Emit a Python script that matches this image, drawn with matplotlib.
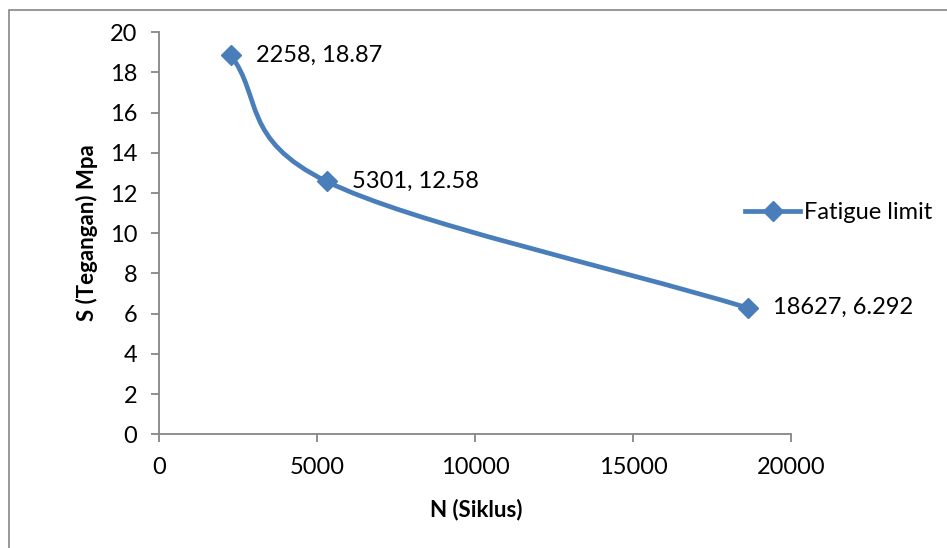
import numpy as np
import matplotlib
matplotlib.use("Agg")
import matplotlib.pyplot as plt
from matplotlib.path import Path
from matplotlib.patches import PathPatch, Rectangle
from matplotlib.lines import Line2D

# fatigue test results
n_cycles = [2258, 5301, 18627]
stress = [18.87, 12.58, 6.292]
point_labels = ["2258, 18.87", "5301, 12.58", "18627, 6.292"]
series_name = "Fatigue limit"

blue = "#4A7EBB"
axis_grey = "#868686"

plt.rcParams['font.family'] = ['Lato', 'DejaVu Sans']
plt.rcParams['font.size'] = 17

W, H = 947, 548
fig = plt.figure(figsize=(W / 100, H / 100), dpi=100)
ax = fig.add_axes([159.3 / W, 1 - 434.3 / H, (791 - 159.3) / W, (434.3 - 32.3) / H])

ax.set_xlim(0, 20000)
ax.set_ylim(0, 20)
ax.set_xticks(np.arange(0, 20001, 5000))
ax.set_yticks(np.arange(0, 21, 2))
for s in ['top', 'right']:
    ax.spines[s].set_visible(False)
for s in ['left', 'bottom']:
    ax.spines[s].set_color(axis_grey)
    ax.spines[s].set_linewidth(1.3)
ax.tick_params(axis='both', direction='out', length=6, width=1.3, color=axis_grey)
ax.tick_params(axis='y', pad=10)
ax.tick_params(axis='x', pad=10)

# smoothed line: bezier through the points, end tangents from reflected neighbours
pts = np.column_stack([n_cycles, stress]).astype(float)
ext = np.vstack([2 * pts[0] - pts[1], pts, 2 * pts[-1] - pts[-2]])
verts = [tuple(pts[0])]
codes = [Path.MOVETO]
for i in range(len(pts) - 1):
    p0, p1, p2, p3 = ext[i], ext[i + 1], ext[i + 2], ext[i + 3]
    c1 = p1 + (p2 - p0) / 6
    c2 = p2 - (p3 - p1) / 6
    verts += [tuple(c1), tuple(c2), tuple(p2)]
    codes += [Path.CURVE4] * 3
curve = PathPatch(Path(verts, codes), facecolor='none', edgecolor=blue,
                  lw=3.4, capstyle='round', joinstyle='round', zorder=2)
ax.add_patch(curve)
ax.plot(n_cycles, stress, linestyle='none', marker='D', markersize=10.5,
        color=blue, zorder=3, clip_on=False)

for x, y, lab in zip(n_cycles, stress, point_labels):
    ax.annotate(lab, (x, y), xytext=(18, 0), textcoords='offset points',
                va='center', ha='left')

fig.text(476 / W, 1 - 510 / H, "N (Siklus)", fontweight='bold',
         fontsize=16, ha='center', va='center')
fig.text(87 / W, 1 - 233 / H, "S (Tegangan) Mpa", fontweight='bold',
         fontsize=16, ha='center', va='center', rotation=90)

handle = Line2D([], [], color=blue, lw=3.4, marker='D', markersize=10.5)
fig.legend([handle], [series_name], loc='center left',
           bbox_to_anchor=(745 / W, 1 - 213 / H), frameon=False,
           handlelength=2.33, handletextpad=0.17, borderpad=0, borderaxespad=0)

# chart area border (runs past the right and bottom edges)
fig.add_artist(Rectangle((9 / W, -0.1), 1.0, 1.1 - 10 / H,
                         transform=fig.transFigure, fill=False,
                         edgecolor=axis_grey, lw=1.2))

fig.savefig("out.png", dpi=100)
